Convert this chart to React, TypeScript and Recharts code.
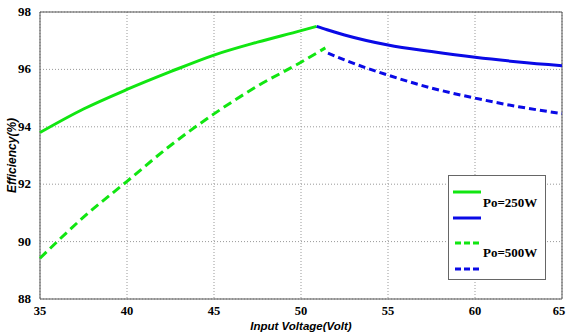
import { CartesianGrid, Line, LineChart, ReferenceArea, XAxis, YAxis } from "recharts"

const xTicks = [35, 40, 45, 50, 55, 60, 65]
const yTicks = [88, 90, 92, 94, 96, 98]

// Po=250W
const lowV250 = [
  { v: 35, eff: 93.8 },
  { v: 37.5, eff: 94.62 },
  { v: 40, eff: 95.3 },
  { v: 42.5, eff: 95.92 },
  { v: 45, eff: 96.5 },
  { v: 47.5, eff: 96.95 },
  { v: 50, eff: 97.35 },
  { v: 50.9, eff: 97.5 },
]
const highV250 = [
  { v: 50.9, eff: 97.5 },
  { v: 51.5, eff: 97.38 },
  { v: 52.5, eff: 97.2 },
  { v: 55, eff: 96.85 },
  { v: 57.5, eff: 96.62 },
  { v: 60, eff: 96.42 },
  { v: 62.5, eff: 96.26 },
  { v: 65, eff: 96.13 },
]

// Po=500W
const lowV500 = [
  { v: 35, eff: 89.42 },
  { v: 37.5, eff: 90.85 },
  { v: 40, eff: 92.1 },
  { v: 42.5, eff: 93.35 },
  { v: 45, eff: 94.45 },
  { v: 47.5, eff: 95.42 },
  { v: 50, eff: 96.25 },
  { v: 51.4, eff: 96.75 },
]
const highV500 = [
  { v: 51.55, eff: 96.57 },
  { v: 52.5, eff: 96.33 },
  { v: 55, eff: 95.8 },
  { v: 57.5, eff: 95.35 },
  { v: 60, eff: 95.0 },
  { v: 62.5, eff: 94.7 },
  { v: 65, eff: 94.46 },
]

const GREEN = "#11e611"
const BLUE = "#0a0ae6"
const SERIF = "'Liberation Serif', 'DejaVu Serif', serif"
const SANS = "'Liberation Sans', Arial, sans-serif"

function XTick(props: any) {
  const { x, y, payload } = props
  return (
    <text x={x} y={y + 8} textAnchor="middle" fontFamily={SERIF} fontWeight={700} fontSize={12.5} fill="#000">
      {payload.value}
    </text>
  )
}

function YTick(props: any) {
  const { x, y, payload } = props
  return (
    <text x={x - 1} y={y + 4} textAnchor="end" fontFamily={SERIF} fontWeight={700} fontSize={13} fill="#000">
      {payload.value}
    </text>
  )
}

function XLabel(props: any) {
  const vb = props.viewBox || { x: 40, width: 522 }
  return (
    <text x={vb.x + vb.width / 2} y={329.5} textAnchor="middle" fontFamily={SANS} fontStyle="italic" fontWeight={700} fontSize={11.5} fill="#000">
      Input Voltage(Volt)
    </text>
  )
}

function LegendBox() {
  return (
    <svg width={98} height={105} style={{ position: "absolute", left: 448, top: 175 }}>
      <rect x={0.5} y={0.5} width={97} height={104} fill="#fff" stroke="#666" />
      <line x1={5} x2={33} y1={17} y2={17} stroke={GREEN} strokeWidth={3} />
      <text x={35} y={32} fontFamily={SERIF} fontWeight={700} fontSize={13}>Po=250W</text>
      <line x1={5} x2={33} y1={43} y2={43} stroke={BLUE} strokeWidth={3} />
      <line x1={7} x2={33} y1={68} y2={68} stroke={GREEN} strokeWidth={3} strokeDasharray="6 3" />
      <text x={35} y={82} fontFamily={SERIF} fontWeight={700} fontSize={13}>Po=500W</text>
      <line x1={7} x2={33} y1={94} y2={94} stroke={BLUE} strokeWidth={3} strokeDasharray="6 3" />
    </svg>
  )
}

export default function App() {
  return (
    <div style={{ position: "fixed", left: 0, top: 0, width: 567, height: 333, background: "#fff" }}>
      <LineChart width={567} height={333} margin={{ top: 12, right: 5, bottom: 0, left: 0 }}>
        <CartesianGrid stroke="#999" strokeDasharray="1 2" />
        <XAxis
          dataKey="v"
          type="number"
          domain={[35, 65]}
          ticks={xTicks}
          allowDuplicatedCategory={false}
          height={34}
          tickLine={false}
          axisLine={false}
          tick={<XTick />}
          label={{ content: <XLabel /> }}
        />
        <YAxis
          type="number"
          domain={[88, 98]}
          ticks={yTicks}
          width={40}
          tickLine={false}
          axisLine={false}
          tick={<YTick />}
          label={{
            value: "Efficiency(%)",
            angle: -90,
            position: "insideLeft",
            offset: 12,
            style: { textAnchor: "middle", fill: "#000", fontFamily: SANS, fontStyle: "italic", fontWeight: 700, fontSize: 12 },
          }}
        />
        <ReferenceArea x1={35} x2={65} y1={88} y2={98} fill="none" stroke="#555" strokeWidth={1} ifOverflow="visible" />
        <Line data={lowV250} dataKey="eff" type="monotone" stroke={GREEN} strokeWidth={3} dot={false} isAnimationActive={false} />
        <Line data={highV250} dataKey="eff" type="monotone" stroke={BLUE} strokeWidth={3} dot={false} isAnimationActive={false} />
        <Line data={lowV500} dataKey="eff" type="monotone" stroke={GREEN} strokeWidth={3} strokeDasharray="9 5" dot={false} isAnimationActive={false} />
        <Line data={highV500} dataKey="eff" type="monotone" stroke={BLUE} strokeWidth={3} strokeDasharray="7 4" dot={false} isAnimationActive={false} />
      </LineChart>
      <LegendBox />
    </div>
  )
}
